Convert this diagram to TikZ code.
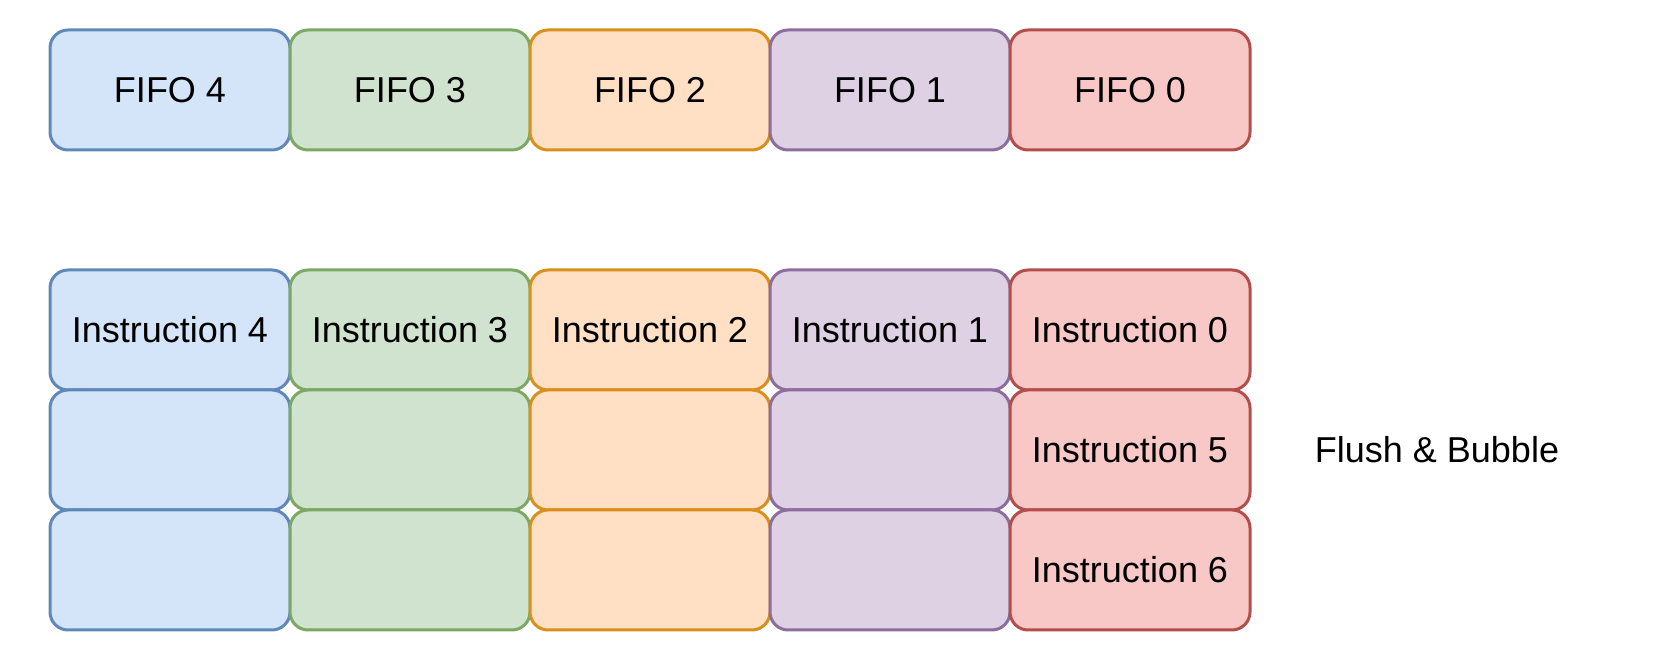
\documentclass[tikz,border=0pt]{standalone}
\usepackage{fontspec}
\setmainfont{Liberation Sans}
\definecolor{bfill}{HTML}{D4E5F9}\definecolor{bline}{HTML}{5F88BA}
\definecolor{gfill}{HTML}{CFE3CE}\definecolor{gline}{HTML}{7BA862}
\definecolor{ofill}{HTML}{FFE0C5}\definecolor{oline}{HTML}{D88F1C}
\definecolor{pfill}{HTML}{DED1E4}\definecolor{pline}{HTML}{8C6D9E}
\definecolor{rfill}{HTML}{F8C8C6}\definecolor{rline}{HTML}{B34E4B}
\tikzset{
  cell/.style={draw, line width=1.5pt, rounded corners=9pt, minimum width=120pt, minimum height=60pt, inner sep=0pt, font=\fontsize{18}{21}\selectfont},
  cb/.style={cell, fill=bfill, draw=bline},
  cg/.style={cell, fill=gfill, draw=gline},
  co/.style={cell, fill=ofill, draw=oline},
  cp/.style={cell, fill=pfill, draw=pline},
  cr/.style={cell, fill=rfill, draw=rline},
  lbl/.style={font=\fontsize{18}{21}\selectfont, inner sep=0pt}
}
\begin{document}
\begin{tikzpicture}[x=0.5pt,y=-0.5pt]
\useasboundingbox (0,0) rectangle (1672,656);
% top row
\node[cb] (f4) at (170,90) {FIFO 4};
\node[cg] (f3) at (410,90) {FIFO 3};
\node[co] (f2) at (650,90) {FIFO 2};
\node[cp] (f1) at (890,90) {FIFO 1};
\node[cr] (f0) at (1130,90) {FIFO 0};
% row 1
\node[cb] (i4) at (170,330) {Instruction 4};
\node[cg] (i3) at (410,330) {Instruction 3};
\node[co] (i2) at (650,330) {Instruction 2};
\node[cp] (i1) at (890,330) {Instruction 1};
\node[cr] (i0) at (1130,330) {Instruction 0};
% row 2
\node[cb] (b4a) at (170,450) {};
\node[cg] (b3a) at (410,450) {};
\node[co] (b2a) at (650,450) {};
\node[cp] (b1a) at (890,450) {};
\node[cr] (i5) at (1130,450) {Instruction 5};
% row 3
\node[cb] (b4b) at (170,570) {};
\node[cg] (b3b) at (410,570) {};
\node[co] (b2b) at (650,570) {};
\node[cp] (b1b) at (890,570) {};
\node[cr] (i6) at (1130,570) {Instruction 6};
\node[lbl] (fb) at (1437,450) {Flush \& Bubble};
\end{tikzpicture}
\end{document}
